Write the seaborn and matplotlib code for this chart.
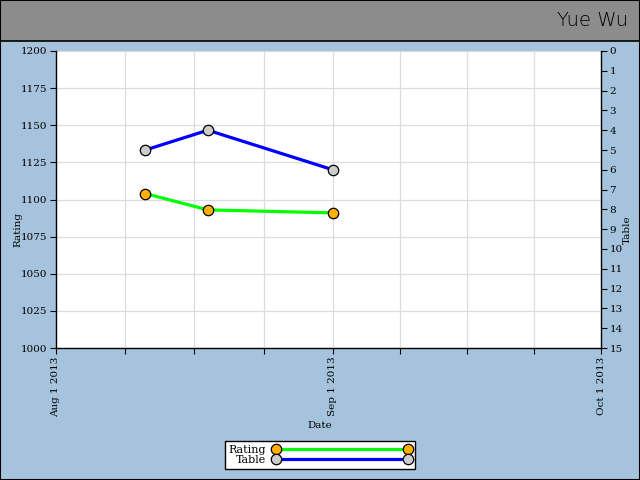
import matplotlib
matplotlib.use("Agg")
import matplotlib.pyplot as plt
import matplotlib.dates as mdates
from matplotlib.lines import Line2D
from matplotlib.patches import Rectangle
import numpy as np
import pandas as pd
import seaborn as sns

# ---- data ----
dates = ["2013-08-11", "2013-08-18", "2013-09-01"]
rating = [1104, 1093, 1091]
table_pos = [5, 4, 6]
x_ticks = ["2013-08-01", "2013-09-01", "2013-10-01"]
x_tick_labels = ["Aug 1 2013", "Sep 1 2013", "Oct 1 2013"]
rating_ticks = list(range(1000, 1201, 25))
table_ticks = list(range(0, 16))
title = "Yue Wu"

sns.set_style("white")
plt.rcParams["font.family"] = ["DejaVu Serif"]
FS = 7.5

df = pd.DataFrame({"Date": pd.to_datetime(dates), "Rating": rating, "Table": table_pos})

BG = "#a5c3dc"
fig = plt.figure(figsize=(6.4, 4.8), dpi=100, facecolor=BG)

# title bar
fig.patches.append(Rectangle((0, 1 - 41 / 480), 1, 41 / 480, transform=fig.transFigure,
                             facecolor="#8c8c8c", edgecolor="black", linewidth=1.2, zorder=0))
fig.patches.append(Rectangle((0, 0), 1, 1, transform=fig.transFigure,
                             facecolor="none", edgecolor="black", linewidth=1.5, zorder=0))
fig.text(628 / 640, 1 - 21 / 480, title, ha="right", va="center", fontsize=14,
         family="DejaVu Sans", fontweight="light", color="black")

ax = fig.add_axes([56 / 640, 1 - 348 / 480, 545 / 640, 297 / 480])
ax.set_facecolor("white")

sns.lineplot(data=df, x="Date", y="Rating", ax=ax, color="#00ff00", linewidth=2.3,
             marker="o", markersize=7.5, markerfacecolor="#ffb000",
             markeredgecolor="black", markeredgewidth=0.9, zorder=5)

ax2 = ax.twinx()
sns.lineplot(data=df, x="Date", y="Table", ax=ax2, color="#0000ff", linewidth=2.3,
             marker="o", markersize=7.5, markerfacecolor="#cccccc",
             markeredgecolor="black", markeredgewidth=0.9, zorder=5)

xt = mdates.date2num(pd.to_datetime(x_ticks))
ax.set_xlim(xt[0], xt[-1])
ax.set_xticks(xt)
ax.set_xticklabels(x_tick_labels, rotation=90, fontsize=FS)
minor = np.concatenate([np.linspace(xt[0], xt[1], 5)[1:-1], np.linspace(xt[1], xt[2], 5)[1:-1]])
ax.set_xticks(minor, minor=True)

ax.set_ylim(1000, 1200)
ax.set_yticks(rating_ticks)
ax.set_yticklabels([str(v) for v in rating_ticks], fontsize=FS)
ax2.set_ylim(15, 0)
ax2.set_yticks(table_ticks)
ax2.set_yticklabels([str(v) for v in table_ticks], fontsize=FS)

ax.grid(True, which="both", axis="x", color="#dddddd", linewidth=0.9)
ax.grid(True, which="major", axis="y", color="#dddddd", linewidth=0.9)
ax.set_axisbelow(True)

for a in (ax, ax2):
    a.spines["top"].set_visible(False)
    for s in ("left", "right", "bottom"):
        a.spines[s].set_color("black")
        a.spines[s].set_linewidth(1.0)
ax.spines["right"].set_visible(False)
ax2.spines["left"].set_visible(False)
ax2.spines["bottom"].set_visible(False)

ax.tick_params(axis="both", which="both", direction="out", length=4, width=0.8,
               color="black", labelsize=FS, labelcolor="black", pad=2, bottom=True, left=True)
ax2.tick_params(axis="y", direction="out", length=4, width=0.8, color="black",
                labelsize=FS, labelcolor="black", pad=2, right=True)

ax.set_xlabel("Date", fontsize=FS, color="black")
ax.set_ylabel("Rating", fontsize=FS, color="black")
ax2.set_ylabel("Table", fontsize=FS, color="black")
ax.xaxis.set_label_coords(0.485, -0.245)
ax.yaxis.set_label_coords(-0.062, 0.4)
ax2.yaxis.set_label_coords(1.04, 0.4)

h1 = Line2D([0, 1], [0, 0], color="#00ff00", linewidth=2.3, marker="o", markersize=7.5,
            markerfacecolor="#ffb000", markeredgecolor="black", markeredgewidth=0.9)
h2 = Line2D([0, 1], [0, 0], color="#0000ff", linewidth=2.3, marker="o", markersize=7.5,
            markerfacecolor="#cccccc", markeredgecolor="black", markeredgewidth=0.9)
leg = fig.legend([h1, h2], ["Rating", "Table"], loc="center", bbox_to_anchor=(320 / 640, 1 - 455 / 480),
                 fontsize=8, markerfirst=False, handlelength=12.5, numpoints=2,
                 frameon=True, fancybox=False, edgecolor="black", framealpha=1,
                 borderpad=0.3, labelspacing=0.05, handletextpad=0.6, alignment="center")
for t in leg.get_texts():
    t.set_ha("left")
    t.set_color("black")
leg.get_frame().set_linewidth(1.0)

fig.savefig("out.png", dpi=100, facecolor=BG)
